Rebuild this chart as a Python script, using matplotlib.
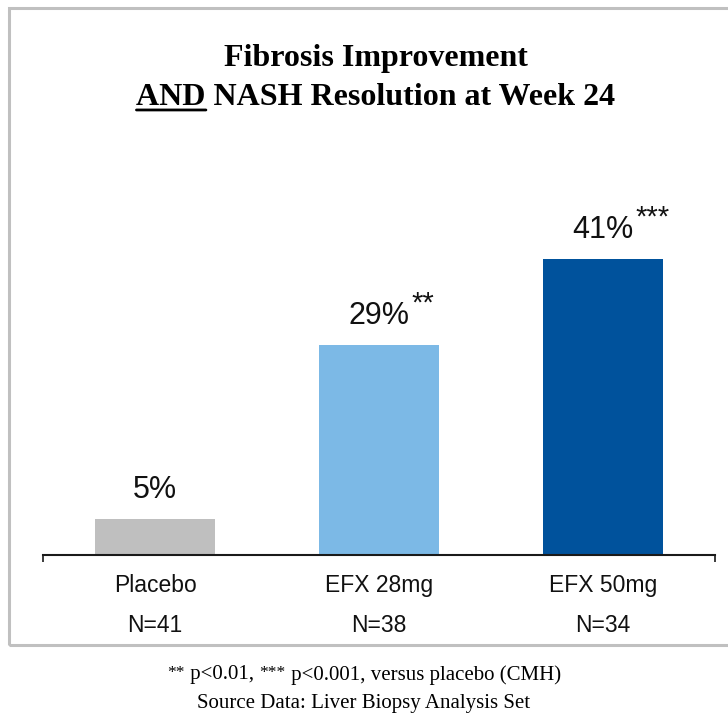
import matplotlib
matplotlib.use("Agg")
import matplotlib.pyplot as plt
from matplotlib.patches import Rectangle
from matplotlib.offsetbox import TextArea, HPacker, AnnotationBbox

groups = ["Placebo", "EFX 28mg", "EFX 50mg"]
n_counts = ["N=41", "N=38", "N=34"]
pct = [5, 29, 41]
stars = ["", "**", "***"]
colors = ["#bfbfbf", "#7cb9e6", "#00529c"]

SANS = "Liberation Sans"
SERIF = "Liberation Serif"

W, H = 728, 716
fig = plt.figure(figsize=(W / 100, H / 100), dpi=100)

# light grey frame round the chart (open on the right like the slide crop)
fig.patches.append(Rectangle((9 / W, 1 - 645 / H), 2.0, (645 - 8) / H,
                             transform=fig.transFigure, fill=False,
                             edgecolor="#c0c0c0", linewidth=2.2, zorder=0))

ax = fig.add_axes([43 / W, 1 - 555 / H, 672 / W, 400 / H])
x = list(range(len(groups)))
ax.bar(x, pct, width=0.536, color=colors, zorder=2)
ax.set_xlim(-0.5, 2.5)
ax.set_ylim(0, 400 / 7.23)

for s in ["top", "right", "left"]:
    ax.spines[s].set_visible(False)
ax.spines["bottom"].set_linewidth(1.5)
ax.spines["bottom"].set_color("#1a1a1a")
ax.set_yticks([])

# end ticks only, category labels on minor ticks
ax.set_xticks([-0.5, 2.5])
ax.set_xticklabels(["", ""])
ax.tick_params(axis="x", which="major", length=5, width=1.2, color="#1a1a1a")
ax.set_xticks(x, minor=True)
ax.set_xticklabels([f"{g}\n{n}" for g, n in zip(groups, n_counts)], minor=True,
                   fontsize=16.5, family=SANS, linespacing=1.9, color="#111111")
ax.tick_params(axis="x", which="minor", length=0, pad=14)

for i, v in enumerate(pct):
    lab = ax.annotate(f"{v}%", xy=(i, v), xytext=(0, 15), textcoords="offset points",
                      ha="center", va="baseline", fontsize=22, family=SANS, color="#111111")
    if stars[i]:
        ax.annotate(stars[i], xy=(1, 0), xycoords=lab, xytext=(1.5, 14),
                    textcoords="offset points", ha="left", va="baseline",
                    fontsize=21, family=SANS, color="#111111")

# title, second line with underlined "AND"
tx = 376 / W
fig.text(tx, 1 - 66 / H, "Fibrosis Improvement", ha="center", va="baseline",
         fontsize=23, family=SERIF, fontweight="bold")
t2 = fig.text(tx, 1 - 105 / H, "AND NASH Resolution at Week 24", ha="center",
              va="baseline", fontsize=23, family=SERIF, fontweight="bold")
and_txt = ax.annotate("AND", xy=(0, 0), xycoords=t2, ha="left", va="bottom",
                      fontsize=23, family=SERIF, fontweight="bold", alpha=0,
                      annotation_clip=False)
ax.annotate("", xy=(0, 0.07), xycoords=and_txt, xytext=(1, 0.07), textcoords=and_txt,
            arrowprops=dict(arrowstyle="-", lw=2, color="black", shrinkA=0, shrinkB=0),
            annotation_clip=False)

# footnotes
big = dict(fontsize=15, family=SERIF, color="black")
small = dict(fontsize=12.5, family=SERIF, color="black")
foot = HPacker(children=[TextArea("**", textprops=small),
                         TextArea(" p<0.01, ", textprops=big),
                         TextArea("***", textprops=small),
                         TextArea(" p<0.001, versus placebo (CMH)", textprops=big)],
               align="top", pad=0, sep=0)
fig.add_artist(AnnotationBbox(foot, (0.5, 1 - 675 / H), xycoords="figure fraction",
                              frameon=False, box_alignment=(0.5, 0.5), pad=0))
fig.text(0.5, 1 - 708 / H, "Source Data: Liver Biopsy Analysis Set", ha="center",
         va="baseline", **big)

fig.savefig("out.png", dpi=100)
